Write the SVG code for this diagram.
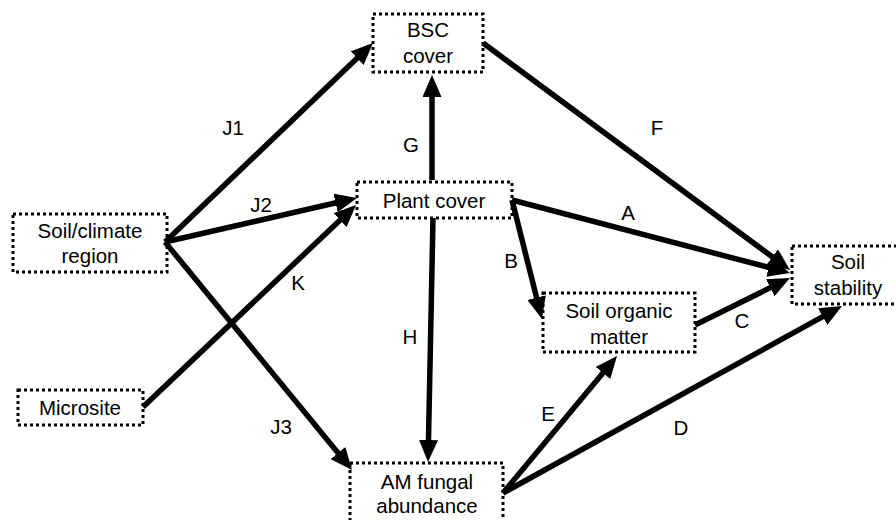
<svg xmlns="http://www.w3.org/2000/svg" width="896" height="520" viewBox="0 0 896 520">
<style>
.box{fill:none;stroke:#000;stroke-width:3;stroke-dasharray:3 3}
.t{font-family:"Liberation Sans",Arial,sans-serif;font-size:20.5px;fill:#000;text-anchor:middle}
.c{stroke:#000;stroke-width:5.5;fill:none;marker-end:url(#ah)}
</style>
<defs>
<marker id="ah" markerUnits="userSpaceOnUse" markerWidth="22" markerHeight="19" viewBox="0 0 22 19" refX="14" refY="9.5" orient="auto">
<path d="M0,0 L22,9.5 L0,19 z" fill="#000"/>
</marker>
</defs>
<rect width="896" height="520" fill="#fff"/>
<g id="connectors">
<line class="c" x1="165" y1="242" x2="367.2" y2="48.5"/>
<line class="c" x1="165" y1="242" x2="349.2" y2="199.8"/>
<line class="c" x1="165" y1="242" x2="346.9" y2="463.8"/>
<line class="c" x1="143" y1="407" x2="350.2" y2="210.5"/>
<line class="c" x1="432" y1="180" x2="432" y2="83"/>
<line class="c" x1="433" y1="218" x2="428.2" y2="454"/>
<line class="c" x1="512" y1="200" x2="782.3" y2="271"/>
<line class="c" x1="512" y1="200" x2="540" y2="311.2"/>
<line class="c" x1="483" y1="43" x2="783.6" y2="265.2"/>
<line class="c" x1="695" y1="325" x2="782.8" y2="281.5"/>
<line class="c" x1="503" y1="493" x2="835" y2="309.9"/>
<line class="c" x1="503" y1="493" x2="611.9" y2="362.2"/>
<g class="t">
<text x="233" y="135">J1</text>
<text x="261" y="212">J2</text>
<text x="281" y="434">J3</text>
<text x="298" y="290">K</text>
<text x="411" y="152">G</text>
<text x="410" y="344">H</text>
<text x="657" y="135">F</text>
<text x="628" y="220">A</text>
<text x="511" y="268">B</text>
<text x="742" y="328">C</text>
<text x="681" y="435">D</text>
<text x="548" y="421">E</text>
</g>
</g>
<g id="bsc">
<rect class="box" x="373" y="14" width="110" height="58"/>
<text class="t" x="428" y="37">BSC</text>
<text class="t" x="428" y="63">cover</text>
</g>
<g id="soilclimate">
<rect class="box" x="13" y="214" width="154" height="58"/>
<text class="t" x="90" y="238">Soil/climate</text>
<text class="t" x="90" y="263">region</text>
</g>
<g id="plant">
<rect class="box" x="357" y="182" width="155" height="36"/>
<text class="t" x="434" y="208">Plant cover</text>
</g>
<g id="som">
<rect class="box" x="543" y="293" width="152" height="59"/>
<text class="t" x="619" y="318">Soil organic</text>
<text class="t" x="619" y="344">matter</text>
</g>
<g id="stability">
<rect class="box" x="792" y="246" width="112" height="58"/>
<text class="t" x="848" y="269">Soil</text>
<text class="t" x="848" y="295">stability</text>
</g>
<g id="microsite">
<rect class="box" x="18" y="390" width="125" height="35"/>
<text class="t" x="80" y="415">Microsite</text>
</g>
<g id="amf">
<rect class="box" x="350" y="463" width="153" height="62"/>
<text class="t" x="427" y="489">AM fungal</text>
<text class="t" x="427" y="513">abundance</text>
</g>
</svg>
